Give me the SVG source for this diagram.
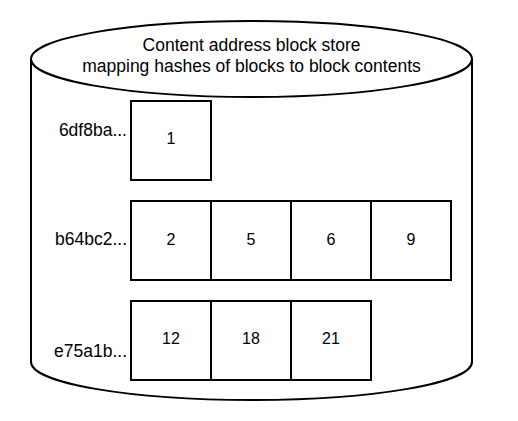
<svg xmlns="http://www.w3.org/2000/svg" width="518" height="421" viewBox="0 0 518 421">
<style>
.sh{fill:#fff;stroke:#000;stroke-width:2}
.t{font-family:"Liberation Sans",Arial,sans-serif;fill:#000}
.title{font-size:17.5px;text-anchor:middle}
.lab{font-size:17.5px;text-anchor:end}
.num{font-size:16px;text-anchor:middle}
</style>
<rect width="518" height="421" fill="#fff"/>
<g id="store">
<path class="sh" d="M31,59 L31,362 A220.5,38 0 0 0 472,362 L472,59"/>
<ellipse class="sh" cx="251.5" cy="59" rx="220.5" ry="38"/>
<text class="t title" x="251.5" y="51">Content address block store</text>
<text class="t title" x="251.5" y="72">mapping hashes of blocks to block contents</text>
</g>
<g id="row1">
<text class="t lab" x="127" y="136">6df8ba...</text>
<rect class="sh" x="131" y="101" width="80" height="79"/>
<text class="t num" x="171" y="144">1</text>
</g>
<g id="row2">
<text class="t lab" x="127" y="245">b64bc2...</text>
<rect class="sh" x="131" y="201" width="80" height="79"/>
<rect class="sh" x="211" y="201" width="80" height="79"/>
<rect class="sh" x="291" y="201" width="80" height="79"/>
<rect class="sh" x="371" y="201" width="80" height="79"/>
<text class="t num" x="171" y="245">2</text>
<text class="t num" x="251" y="245">5</text>
<text class="t num" x="331" y="245">6</text>
<text class="t num" x="411" y="245">9</text>
</g>
<g id="row3">
<text class="t lab" x="127" y="357">e75a1b...</text>
<rect class="sh" x="131" y="301" width="80" height="79"/>
<rect class="sh" x="211" y="301" width="80" height="79"/>
<rect class="sh" x="291" y="301" width="80" height="79"/>
<text class="t num" x="171" y="344">12</text>
<text class="t num" x="251" y="344">18</text>
<text class="t num" x="331" y="344">21</text>
</g>
<g id="connectors"></g>
</svg>
